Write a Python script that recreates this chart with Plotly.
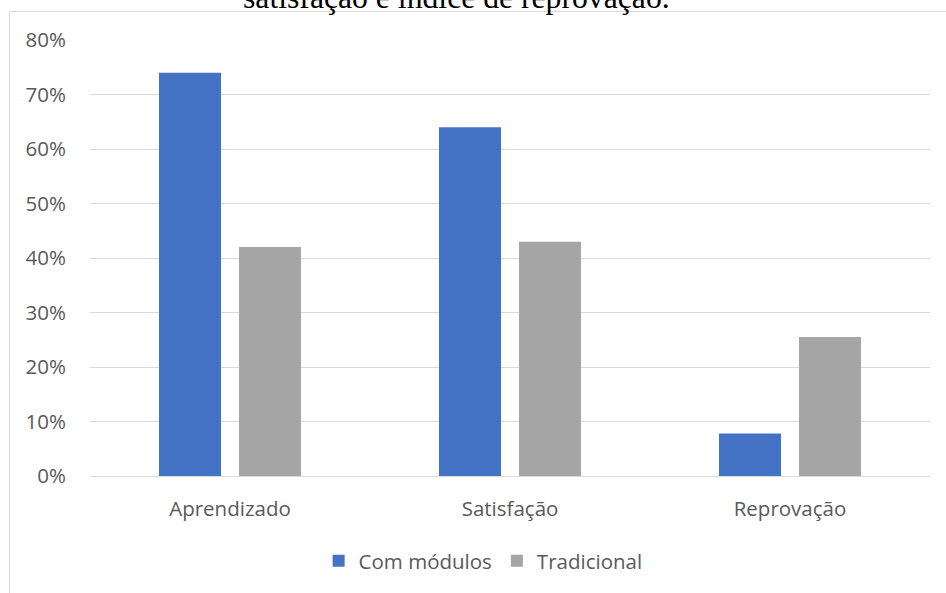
import plotly.graph_objects as go

categories = ["Aprendizado", "Satisfação", "Reprovação"]
com_modulos = [0.74, 0.64, 0.078]
tradicional = [0.42, 0.43, 0.255]
series_names = ["Com módulos", "Tradicional"]
y_ticks = [0, 0.1, 0.2, 0.3, 0.4, 0.5, 0.6, 0.7, 0.8]
title_text = "satisfação e índice de reprovação."

W, H = 946, 593
L, R, T, B = 90, 16, 40, 117
pw, ph = W - L - R, H - T - B

def px_x(x):
    return (x - L) / pw

def px_y(y):
    return (H - B - y) / ph

fig = go.Figure()
fig.add_trace(go.Bar(x=categories, y=com_modulos, name=series_names[0],
                     marker=dict(color="#4472C4", line=dict(width=0))))
fig.add_trace(go.Bar(x=categories, y=tradicional, name=series_names[1],
                     marker=dict(color="#A5A5A5", line=dict(width=0))))

tick_font = dict(family="Open Sans", size=20.5, color="#595959")

fig.update_layout(
    width=W, height=H,
    margin=dict(l=L, r=R, t=T, b=B, pad=0),
    paper_bgcolor="white", plot_bgcolor="white",
    barmode="group", bargap=0.4286, bargroupgap=0.225,
    showlegend=True,
    legend=dict(orientation="h", x=0.468, xanchor="center", y=px_y(561), yanchor="middle",
                font=dict(family="Open Sans", size=20.5, color="#595959"),
                traceorder="normal", itemclick=False),
    xaxis=dict(showgrid=False, showline=False, zeroline=False, tickfont=tick_font,
               ticks="outside", ticklen=14, tickcolor="rgba(0,0,0,0)"),
    yaxis=dict(range=[0, 0.8], tickvals=y_ticks, tickformat=".0%", showgrid=True,
               gridcolor="#D9D9D9", gridwidth=1, zeroline=True, zerolinecolor="#D9D9D9",
               zerolinewidth=1, showline=False, tickfont=tick_font,
               ticks="outside", ticklen=19, tickcolor="rgba(0,0,0,0)"),
    shapes=[dict(type="rect", xref="paper", yref="paper",
                 x0=px_x(9.5), x1=px_x(960), y0=px_y(11.5), y1=px_y(610),
                 line=dict(color="#D9D9D9", width=1), fillcolor="rgba(0,0,0,0)", layer="below")],
    annotations=[dict(text=title_text, xref="paper", yref="paper",
                      x=px_x(456.5), y=px_y(-3), xanchor="center", yanchor="middle",
                      showarrow=False,
                      font=dict(family="Liberation Serif", size=31.7, color="black"))],
)

fig.write_html("out.html")
